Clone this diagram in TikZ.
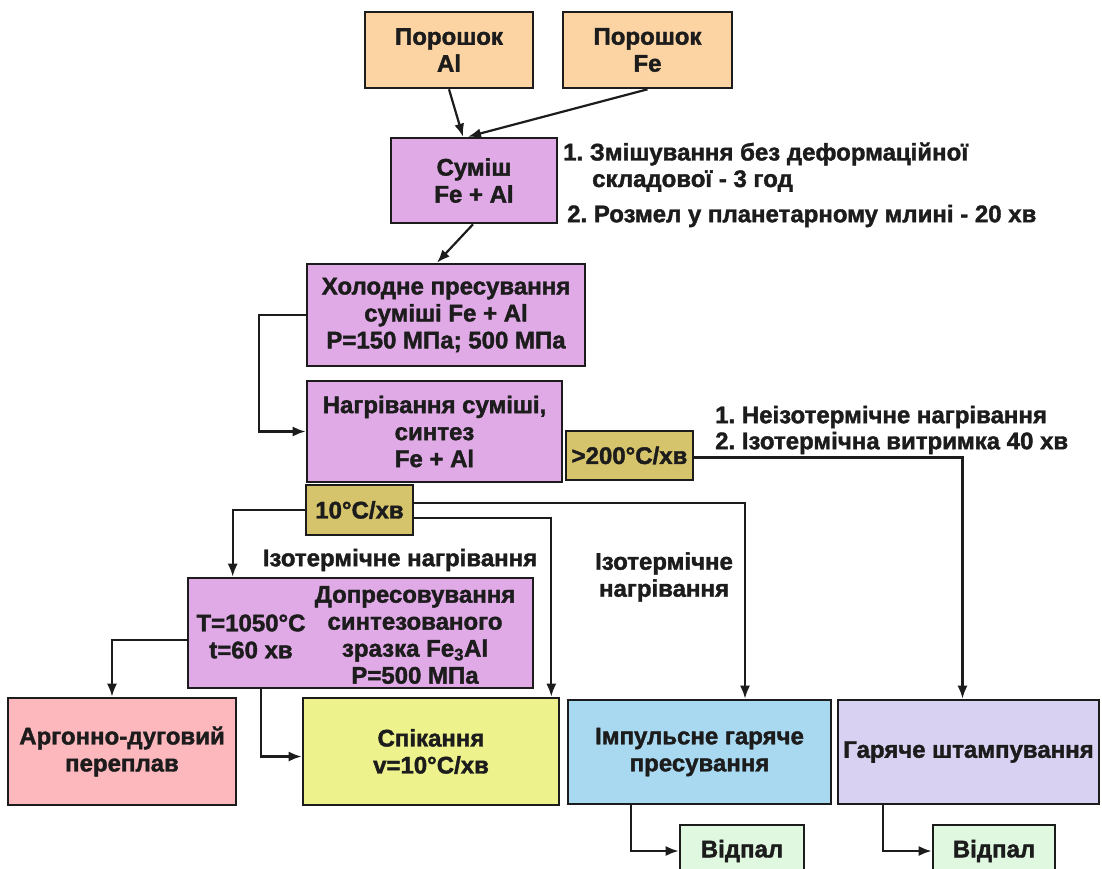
\documentclass[tikz,border=0pt]{standalone}
\usepackage{fontspec}
\setmainfont[BoldFeatures={FakeBold=1.6}]{Liberation Sans}
\usetikzlibrary{arrows.meta,calc}
\definecolor{peach}{HTML}{FCD3A2}
\definecolor{purp}{HTML}{DFAAE5}
\definecolor{khaki}{HTML}{D5C46C}
\definecolor{pinkb}{HTML}{FDB8BE}
\definecolor{yelg}{HTML}{EDF28C}
\definecolor{lblue}{HTML}{A9D9F1}
\definecolor{lavb}{HTML}{D8D1F1}
\definecolor{lgreen}{HTML}{E0F7E0}
\definecolor{ink}{HTML}{1C1C1C}
\newcommand{\bfnt}{\fontsize{24}{27}\selectfont\bfseries}
\frenchspacing
\begin{document}
\begin{tikzpicture}[x=1pt,y=-1pt,
  box/.style={draw=ink, line width=2.6pt, align=center, inner sep=2pt, font=\bfnt, text=ink},
  lbl/.style={inner sep=0pt, font=\bfnt, text=ink},
  conn/.style={line width=2.2pt, draw=ink},
  arr/.style={conn, -{Latex[length=13pt,width=10pt]}}]
\path[use as bounding box, fill=white] (0,0) rectangle (1102,868);
\clip (0,0) rectangle (1102,868);

% boxes
\node[box, fill=peach, minimum width=168pt, minimum height=76pt] (al) at (449,50) {Порошок\\Al};
\node[box, fill=peach, minimum width=169pt, minimum height=76pt] (fe) at (647.5,50) {Порошок\\Fe};
\node[box, fill=purp, minimum width=166pt, minimum height=85pt] (mix) at (474,180.5) {Суміш\\Fe + Al};
\node[box, fill=purp, minimum width=278pt, minimum height=102pt] (cold) at (446,315) {Холодне пресування\\суміші Fe + Al\\P=150 МПа; 500 МПа};
\node[box, fill=purp, minimum width=255pt, minimum height=101pt] (heat) at (434.5,431.5) {Нагрівання суміші,\\синтез\\Fe + Al};
\node[box, fill=khaki, minimum width=127pt, minimum height=49pt] (r200) at (629.5,455.5) {>200°C/хв};
\node[box, fill=khaki, minimum width=107pt, minimum height=50pt] (r10) at (359.5,510) {10°C/хв};
\node[box, fill=purp, minimum width=345pt, minimum height=110pt] (press) at (360.5,633) {};
\node[lbl, align=center] (ptxt) at (251,636.5) {T=1050°C\\t=60 хв};
\node[lbl, align=center] (prtxt) at (415,635) {Допресовування\\синтезованого\\зразка Fe\textsubscript{3}Al\\P=500 МПа};
\node[box, fill=pinkb, minimum width=228pt, minimum height=107pt] (argon) at (122,751.5) {Аргонно-дуговий\\переплав};
\node[box, fill=yelg, minimum width=256pt, minimum height=107pt] (sint) at (431,751.5) {Спікання\\v=10°C/хв};
\node[box, fill=lblue, minimum width=263pt, minimum height=104pt] (imp) at (699.5,752) {Імпульсне гаряче\\пресування};
\node[box, fill=lavb, minimum width=261pt, minimum height=104pt] (stamp) at (968.5,752) {Гаряче штампування};
\node[box, fill=lgreen, minimum width=124pt, minimum height=52pt] (an1) at (742,851) {Відпал};
\node[box, fill=lgreen, minimum width=122pt, minimum height=52pt] (an2) at (994,851) {Відпал};

% free labels
\node[lbl, anchor=west] (n1a) at (563,154) {1. Змішування без деформаційної};
\node[lbl, anchor=west] (n1b) at (592,181) {складової - 3 год};
\node[lbl, anchor=west] (n1c) at (567,216) {2. Розмел у планетарному млині - 20 хв};
\node[lbl, anchor=west] (n2a) at (715,417) {1. Неізотермічне нагрівання};
\node[lbl, anchor=west] (n2b) at (715,443) {2. Ізотермічна витримка 40 хв};
\node[lbl] (iso1) at (400,560) {Ізотермічне нагрівання};
\node[lbl, align=center] (iso2) at (664,577) {Ізотермічне\\нагрівання};

% connectors
\draw[arr] (al.south) -- ([xshift=-11pt]mix.north);
\draw[arr] (fe.south) -- ([xshift=-6pt]mix.north);
\draw[arr] ([xshift=-1pt]mix.south) -- ([xshift=-9pt]cold.north);
\draw[arr] (cold.west) -- ++(-47,0) |- (heat.west);
\draw[arr] ([yshift=-2pt]r200.east) -| ([xshift=-6pt]stamp.north);
\draw[arr] (r10.west) -| ([xshift=46pt]press.north west);
\draw[arr] ([yshift=7pt]r10.east) -| ([xshift=45.5pt]imp.north);
\draw[arr] ([yshift=-8pt]r10.east) -| ([xshift=-9pt]sint.north east);
\draw[arr] ([yshift=-7pt]press.west) -| ([xshift=-10pt]argon.north);
\draw[arr] ([xshift=74pt]press.south west) |- ([yshift=-5pt]sint.west);
\draw[arr] ([xshift=64pt]imp.south west) |- (an1.west);
\draw[arr] ([xshift=46pt]stamp.south west) |- (an2.west);
\end{tikzpicture}
\end{document}
